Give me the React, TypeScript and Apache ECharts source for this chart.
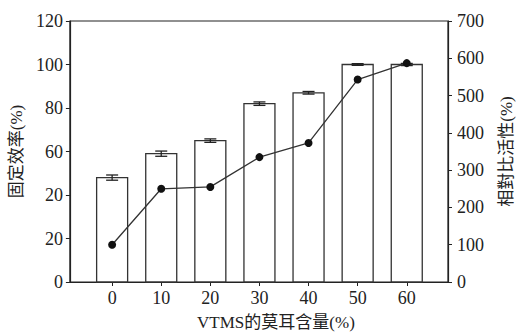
import React, { useEffect, useRef } from "react";
import * as echarts from "echarts";

const xValues = [0, 10, 20, 30, 40, 50, 60];
const efficiency = [48, 59, 65, 82, 87, 100, 100];
const efficiencyErr = [1.2, 1.2, 0.8, 0.8, 0.6, 0.4, 0.5];
const activity = [100, 250, 255, 335, 373, 543, 587];
const leftTickLabels = ["0", "20", "20", "60", "80", "100", "120"];
const rightTickLabels = ["0", "100", "200", "300", "400", "500", "600", "700"];
const xTickLabels = ["0", "10", "20", "30", "40", "50", "60"];

const SERIF = "'Liberation Serif', 'DejaVu Serif', serif";
const CJK = "'Liberation Serif', 'Noto Sans CJK TC', 'Noto Sans CJK SC', serif";

export default function App() {
  const ref = useRef<HTMLDivElement>(null);
  useEffect(() => {
    if (!ref.current) return;
    const chart = echarts.init(ref.current, undefined, { renderer: "svg" });
    const axisColor = "#222";
    chart.setOption({
      animation: false,
      backgroundColor: "#fff",
      grid: {
        left: 65,
        right: 74,
        top: 21,
        bottom: 54,
        show: true,
        borderColor: axisColor,
        borderWidth: 1.2,
        containLabel: false,
      },
      xAxis: {
        type: "value",
        min: -8.6,
        max: 68.4,
        splitLine: { show: false },
        axisLine: { onZero: false, lineStyle: { color: axisColor, width: 1.2 } },
        axisTick: {
          show: true,
          inside: false,
          length: 4,
          customValues: xValues,
          lineStyle: { color: axisColor },
        },
        axisLabel: {
          customValues: xValues,
          formatter: (v: number) => xTickLabels[xValues.indexOf(v)] ?? "",
          color: "#222",
          fontFamily: SERIF,
          fontSize: 18,
          margin: 7,
        },
        name: "VTMS的莫耳含量(%)",
        nameLocation: "middle",
        nameGap: 32,
        nameTextStyle: {
          color: "#222",
          fontFamily: CJK,
          fontSize: 17,
          padding: [0, 0, 0, 34],
        },
      },
      yAxis: [
        {
          type: "value",
          min: 0,
          max: 120,
          interval: 20,
          position: "left",
          splitLine: { show: false },
          axisLine: { show: true, onZero: false, lineStyle: { color: axisColor, width: 1.2 } },
          axisTick: { show: true, length: 4, lineStyle: { color: axisColor } },
          axisLabel: {
            formatter: (v: number) => leftTickLabels[Math.round(v / 20)] ?? "",
            color: "#222",
            fontFamily: SERIF,
            fontSize: 18,
            margin: 7,
          },
          name: "固定效率(%)",
          nameLocation: "middle",
          nameRotate: 90,
          nameGap: 33,
          nameTextStyle: { color: "#222", fontFamily: CJK, fontSize: 17 },
        },
        {
          type: "value",
          min: 0,
          max: 700,
          interval: 100,
          position: "right",
          splitLine: { show: false },
          axisLine: { show: true, onZero: false, lineStyle: { color: axisColor, width: 1.2 } },
          axisTick: { show: true, length: 4, lineStyle: { color: axisColor } },
          axisLabel: {
            formatter: (v: number) => rightTickLabels[Math.round(v / 100)] ?? "",
            color: "#222",
            fontFamily: SERIF,
            fontSize: 18,
            margin: 9,
          },
          name: "相對比活性(%)",
          nameLocation: "middle",
          nameRotate: 90,
          nameGap: 50,
          nameTextStyle: { color: "#222", fontFamily: CJK, fontSize: 17 },
        },
      ],
      series: [
        {
          type: "custom",
          xAxisIndex: 0,
          yAxisIndex: 0,
          data: xValues.map((x, i) => [x, efficiency[i]]),
          renderItem: (params: any, api: any) => {
            const top = api.coord([api.value(0), api.value(1)]);
            const base = api.coord([api.value(0), 0]);
            const w = 31;
            return {
              type: "rect",
              shape: { x: top[0] - w / 2, y: top[1], width: w, height: base[1] - top[1] },
              style: { fill: "#fff", stroke: "#333", lineWidth: 1.3 },
            };
          },
          z: 2,
        },
        {
          type: "custom",
          xAxisIndex: 0,
          yAxisIndex: 0,
          data: xValues.map((x, i) => [x, efficiency[i], efficiencyErr[i]]),
          renderItem: (params: any, api: any) => {
            const x = api.value(0);
            const v = api.value(1);
            const e = api.value(2);
            const hi = api.coord([x, v + e]);
            const lo = api.coord([x, v - e]);
            const hw = 6;
            const st = { stroke: "#222", lineWidth: 1.3 };
            return {
              type: "group",
              children: [
                { type: "line", shape: { x1: hi[0], y1: hi[1], x2: lo[0], y2: lo[1] }, style: st },
                { type: "line", shape: { x1: hi[0] - hw, y1: hi[1], x2: hi[0] + hw, y2: hi[1] }, style: st },
                { type: "line", shape: { x1: lo[0] - hw, y1: lo[1], x2: lo[0] + hw, y2: lo[1] }, style: st },
              ],
            };
          },
          z: 3,
        },
        {
          type: "line",
          xAxisIndex: 0,
          yAxisIndex: 1,
          data: xValues.map((x, i) => [x, activity[i]]),
          symbol: "circle",
          symbolSize: 8,
          lineStyle: { color: "#333", width: 1.3 },
          itemStyle: { color: "#111" },
          z: 4,
        },
      ],
    });
    return () => chart.dispose();
  }, []);
  return (
    <div
      ref={ref}
      style={{ position: "fixed", left: 0, top: 0, width: 523, height: 336, background: "#fff" }}
    />
  );
}
